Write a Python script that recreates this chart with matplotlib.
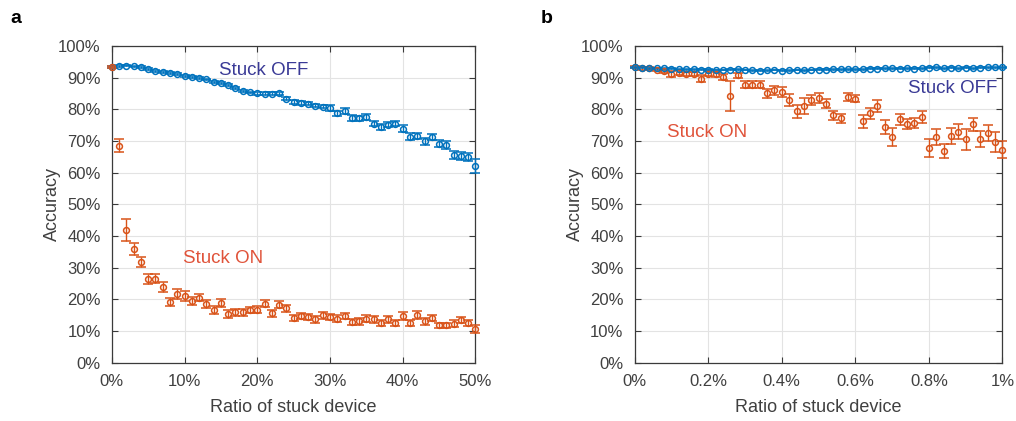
import numpy as np
import matplotlib as mpl
mpl.use("Agg")
import matplotlib.pyplot as plt
from matplotlib.ticker import FuncFormatter

BLUE, ORANGE = "#0072BD", "#D95319"
OFF_TXT, ON_TXT = "#3a3a96", "#e0533a"
AX, TICK, GRID = "#3a3a3a", "#404040", "#e3e3e3"

mpl.rcParams.update({"font.family": ["Liberation Sans", "DejaVu Sans"], "font.size": 11})

# ---- panel a: ratio 0..50 % in 1 % steps ----
ratio_a = np.arange(0, 51)
off_a = [93.3, 93.6, 93.8, 93.5, 93.3, 92.6, 92.2, 91.8, 91.4, 91.0,
         90.6, 90.3, 90.0, 89.4, 88.5, 88.2, 87.8, 86.6, 85.9, 85.3,
         85.0, 84.9, 84.9, 85.0, 83.4, 82.3, 82.0, 81.8, 81.1, 80.8,
         80.4, 78.7, 79.4, 77.3, 77.1, 77.6, 75.5, 74.4, 75.2, 75.5,
         73.9, 71.3, 71.5, 69.9, 71.3, 69.2, 68.7, 65.5, 65.3, 65.0, 62.1]
off_a_err = [0.3] * 20 + [0.5] * 10 + [0.9] * 10 + [1.0, 1.1, 1.0, 1.2, 1.0, 1.1, 1.2, 1.2, 1.2, 1.3, 2.3]
on_a = [93.3, 68.5, 41.9, 35.9, 31.9, 26.4, 26.6, 24.0, 19.2, 21.7,
        21.0, 19.5, 20.6, 18.5, 16.6, 18.9, 15.4, 15.9, 15.9, 16.6,
        16.8, 18.7, 15.6, 18.4, 17.2, 14.2, 14.7, 14.5, 13.7, 15.0,
        14.5, 14.0, 14.7, 12.9, 13.1, 14.0, 13.7, 12.6, 13.7, 12.6,
        14.7, 12.6, 15.2, 13.1, 14.2, 11.9, 11.9, 12.4, 13.5, 12.6, 10.6]
on_a_err = [0.3, 2.0, 3.4, 1.8, 1.6, 1.5, 1.5, 1.5, 1.2, 1.5,
            1.6, 1.2, 1.2, 1.3, 1.3, 1.2, 1.2, 1.0, 1.0, 1.0,
            1.0, 1.2, 1.0, 1.2, 1.2, 1.0, 1.0, 1.0, 1.0, 1.0,
            1.0, 1.0, 1.0, 1.0, 1.0, 1.0, 1.2, 1.0, 1.0, 1.0,
            1.3, 1.0, 1.3, 1.0, 1.0, 0.8, 0.8, 1.0, 1.0, 1.0, 1.2]

# ---- panel b: ratio 0..1 % in 0.02 % steps ----
ratio_b = np.arange(0, 51) * 0.02
off_b = [93.3, 93.1, 93.0, 93.0, 92.9, 92.8, 92.7, 92.7, 92.6, 92.5,
         92.5, 92.4, 92.4, 92.5, 92.7, 92.4, 92.3, 92.2, 92.3, 92.4,
         92.2, 92.3, 92.4, 92.3, 92.4, 92.5, 92.5, 92.6, 92.6, 92.7,
         92.6, 92.7, 92.8, 92.8, 92.9, 93.0, 92.8, 92.9, 92.8, 93.0,
         93.1, 93.2, 93.0, 93.1, 93.0, 93.1, 93.0, 93.1, 93.2, 93.3, 93.2]
off_b_err = [0.15] * 51
on_b = [93.4, 92.9, 92.9, 92.5, 92.0, 91.1, 91.6, 91.2, 91.2, 89.7,
        91.2, 91.0, 90.2, 84.2, 90.8, 87.8, 87.8, 87.8, 85.0, 86.0,
        85.5, 82.9, 79.4, 81.1, 82.9, 83.6, 81.8, 78.1, 77.1, 83.9,
        83.4, 76.2, 78.7, 81.0, 74.5, 71.3, 76.8, 75.3, 75.7, 77.6,
        67.9, 71.3, 66.9, 71.5, 72.9, 70.5, 75.3, 70.5, 72.4, 69.7, 67.3]
on_b_err = [0.3, 0.4, 0.4, 0.5, 0.5, 0.9, 0.7, 0.7, 0.7, 1.2,
            0.8, 0.9, 0.9, 4.8, 0.8, 1.2, 1.0, 1.0, 1.5, 1.5,
            1.5, 1.8, 2.0, 2.5, 1.5, 1.5, 1.5, 1.5, 1.5, 1.2,
            1.2, 2.0, 1.8, 1.8, 2.2, 2.8, 1.8, 1.6, 1.6, 1.8,
            2.8, 2.5, 2.2, 2.5, 2.4, 3.2, 2.0, 2.5, 2.5, 3.2, 2.8]

yticks = np.arange(0, 101, 10)


def style(ax, xticks, xfmt):
    ax.set_ylim(0, 100)
    ax.set_yticks(yticks)
    ax.yaxis.set_major_formatter(FuncFormatter(lambda v, p: f"{v:.0f}%"))
    ax.set_xticks(xticks)
    ax.xaxis.set_major_formatter(FuncFormatter(xfmt))
    ax.grid(color=GRID, lw=0.8)
    ax.set_axisbelow(True)
    ax.tick_params(direction="in", length=4, width=0.8, color=AX, labelcolor=TICK,
                   labelsize=12, top=True, right=True, pad=8)
    for s in ax.spines.values():
        s.set_color(AX); s.set_linewidth(0.9)
    ax.set_ylabel("Accuracy", color=TICK, fontsize=13, labelpad=-2)
    ax.set_xlabel("Ratio of stuck device", color=TICK, fontsize=13, labelpad=7)


def series(ax, x, y, e, col):
    ax.errorbar(x, y, yerr=e, fmt="o", ms=4.2, mfc="none", mec=col, mew=1.1,
                ecolor=col, elinewidth=1.0, capsize=3.5, capthick=1.0, clip_on=False, zorder=3)


fig = plt.figure(figsize=(10.16, 4.21), dpi=100)
axa = fig.add_axes([0.110, 0.138, 0.358, 0.753])
axb = fig.add_axes([0.6247, 0.138, 0.362, 0.753])

series(axa, ratio_a, off_a, off_a_err, BLUE)
series(axa, ratio_a, on_a, on_a_err, ORANGE)
axa.set_xlim(0, 50)
style(axa, np.arange(0, 51, 10), lambda v, p: f"{v:.0f}%")
axa.text(20.9, 92.3, "Stuck OFF", color=OFF_TXT, fontsize=13.5, ha="center", va="center")
axa.text(15.3, 33.0, "Stuck ON", color=ON_TXT, fontsize=13.5, ha="center", va="center")

series(axb, ratio_b, on_b, on_b_err, ORANGE)
series(axb, ratio_b, off_b, off_b_err, BLUE)
axb.set_xlim(0, 1)
style(axb, np.arange(0, 1.01, 0.2), lambda v, p: "0%" if v == 0 else ("1%" if abs(v - 1) < 1e-9 else f"{v:.1f}%"))
axb.text(0.865, 86.6, "Stuck OFF", color=OFF_TXT, fontsize=13.5, ha="center", va="center")
axb.text(0.196, 72.8, "Stuck ON", color=ON_TXT, fontsize=13.5, ha="center", va="center")

fig.text(0.010, 0.955, "a", fontsize=14, fontweight="bold", va="center")
fig.text(0.532, 0.955, "b", fontsize=14, fontweight="bold", va="center")

fig.savefig("out.png", dpi=100)
